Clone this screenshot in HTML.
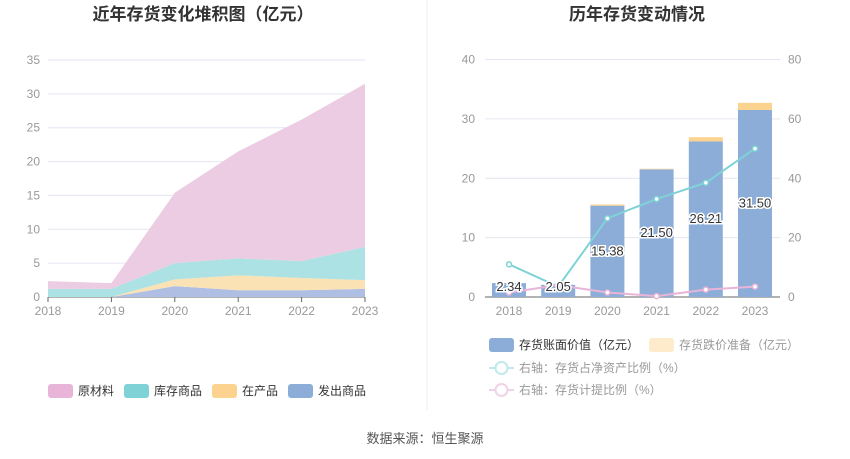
<!DOCTYPE html>
<html><head><meta charset="utf-8">
<style>
body{margin:0;background:#fff;width:850px;height:459px;overflow:hidden;font-family:"Liberation Sans","Noto Sans CJK SC",sans-serif;}
svg{position:absolute;left:0;top:0}
</style></head>
<body>
<svg id="c" width="850" height="459">
<text x="203" y="20" text-anchor="middle" font-size="17" font-weight="bold" fill="#333">近年存货变化堆积图（亿元）</text>
<text x="637" y="20" text-anchor="middle" font-size="17" font-weight="bold" fill="#333">历年存货变动情况</text>
<line x1="427" y1="0" x2="427" y2="410" stroke="#eee"/>
<text x="425" y="443" text-anchor="middle" font-size="13" fill="#555">数据来源：恒生聚源</text>
<g id="left"></g><g id="right"></g>
</svg>
<script>
const years=["2018","2019","2020","2021","2022","2023"];
const shipped=[0,0,1.6,1.0,1.0,1.2];
const wip=[0,0,1.0,2.2,1.8,1.3];
const goods=[1.2,1.2,2.4,2.5,2.5,4.9];
const raw=[1.14,0.85,10.4,15.8,20.9,24.1];
const leftTicks=[0,5,10,15,20,25,30,35];
const bookValue=[2.34,2.05,15.38,21.50,26.21,31.50];
const reserve=[0,0,0.2,0.1,0.7,1.2];
const ratioNet=[11,3.5,26.5,33,38.5,50];
const ratioProv=[1.5,4,1.5,0.3,2.5,3.5];
const rightTicksL=[0,10,20,30,40];
const rightTicksR=[0,20,40,60,80];
const NS="http://www.w3.org/2000/svg";
function mk(p,t,a,txt){const e=document.createElementNS(NS,t);for(const k in a)e.setAttribute(k,a[k]);if(txt!==undefined)e.textContent=txt;p.appendChild(e);return e;}
// left chart
const L=document.getElementById('left');
const lx=i=>48+i*(365-48)/5, ly=v=>297-v*(297-60)/35;
leftTicks.forEach(t=>{const g=mk(L,'line',{x1:48,x2:365,y1:ly(t),y2:ly(t),stroke:t?'#e3e6f0':'#666'});


const tx=mk(L,'text',{x:40,y:ly(t)+4,'text-anchor':'end','font-size':12,fill:'#999'},t);

});
const series=[[shipped,'#aebfe3','shipped-area'],[wip,'#fbe2b4','wip-area'],[goods,'#ace2e3','goods-area'],[raw,'#ecccE2','raw-area']];
let base=years.map(()=>0);
series.forEach(([d,c,n])=>{const top=base.map((b,i)=>b+d[i]);
let pts=top.map((v,i)=>lx(i)+','+ly(v)).join(' ')+' '+base.map((v,i)=>lx(i)+','+ly(v)).reverse().join(' ');
const p=mk(L,'polygon',{points:pts,fill:c});


base=top;});
years.forEach((y,i)=>{const t=mk(L,'text',{x:lx(i),y:315,'text-anchor':'middle','font-size':12,fill:'#999'},y);


mk(L,'line',{x1:lx(i),x2:lx(i),y1:297,y2:302,stroke:'#666'});});
const leg=[['原材料','#e8b5d8',48],['库存商品','#7fd3d6',124],['在产品','#fcd38e',212],['发出商品','#8dadd9',288]];
leg.forEach(([t,c,x])=>{const r=mk(L,'rect',{x:x,y:384,width:25,height:14,rx:3,fill:c});


const tx=mk(L,'text',{x:x+30,y:395,'font-size':12,fill:'#333'},t);

});
// right chart
const R=document.getElementById('right');
const rx=i=>509+i*(755-509)/5, ry=v=>297-v*(297-59.5)/40, ry2=v=>297-v*(297-59.5)/80;
rightTicksL.forEach((t,k)=>{const g=mk(R,'line',{x1:485,x2:780,y1:ry(t),y2:ry(t),stroke:t?'#e3e6f0':'#666'});


const a=mk(R,'text',{x:475,y:ry(t)+4,'text-anchor':'end','font-size':12,fill:'#999'},t);


const b=mk(R,'text',{x:788,y:ry(t)+4,'font-size':12,fill:'#999'},rightTicksR[k]);

});
years.forEach((y,i)=>{const w=34,x=rx(i)-w/2;
const b=mk(R,'rect',{x:x,y:ry(bookValue[i]),width:w,height:ry(0)-ry(bookValue[i]),fill:'#8dadd9'});


if(reserve[i]>0){const r=mk(R,'rect',{x:x,y:ry(bookValue[i]+reserve[i]),width:w,height:ry(bookValue[i])-ry(bookValue[i]+reserve[i]),fill:'#fcd38e'});

}
const t=mk(R,'text',{x:rx(i),y:315,'text-anchor':'middle','font-size':12,fill:'#999'},y);

});
[[ratioNet,'#7fd3d6','line-net-asset-ratio'],[ratioProv,'#e8b5d8','line-provision-ratio']].forEach(([d,c,n])=>{
const pl=mk(R,'polyline',{points:d.map((v,i)=>rx(i)+','+ry2(v)).join(' '),fill:'none',stroke:c,'stroke-width':2});


d.forEach((v,i)=>{const p=mk(R,'circle',{cx:rx(i),cy:ry2(v),r:2.5,fill:'#fff',stroke:c,'stroke-width':1.5});

});});
bookValue.forEach((v,i)=>{const yy=Math.min(ry(v/2)+4,291);
const t=mk(R,'text',{x:rx(i),y:yy,'text-anchor':'middle','font-size':13,fill:'#333',stroke:'#fff','stroke-width':3,'paint-order':'stroke'},v.toFixed(2));

});
const l1=mk(R,'rect',{x:489,y:338,width:25,height:14,rx:3,fill:'#8dadd9'});


const l1t=mk(R,'text',{x:519,y:349,'font-size':12,fill:'#333'},'存货账面价值（亿元）');


const l2=mk(R,'rect',{x:649,y:338,width:25,height:14,rx:3,fill:'#fdebcb'});


const l2t=mk(R,'text',{x:679,y:349,'font-size':12,fill:'#999'},'存货跌价准备（亿元）');


[[368,'#bfe9ea','右轴：存货占净资产比例（%）','legend-net-asset-ratio'],[390,'#f1d3e8','右轴：存货计提比例（%）','legend-provision-ratio']].forEach(([y,c,t,n])=>{
const g=mk(R,'g',{});


mk(g,'line',{x1:489,x2:514,y1:y,y2:y,stroke:c,'stroke-width':2});
mk(g,'circle',{cx:501.5,cy:y,r:6,fill:'#fff',stroke:c,'stroke-width':2});
mk(g,'text',{x:519,y:y+4,'font-size':12,fill:'#999'},t);});
</script>
</body></html>
